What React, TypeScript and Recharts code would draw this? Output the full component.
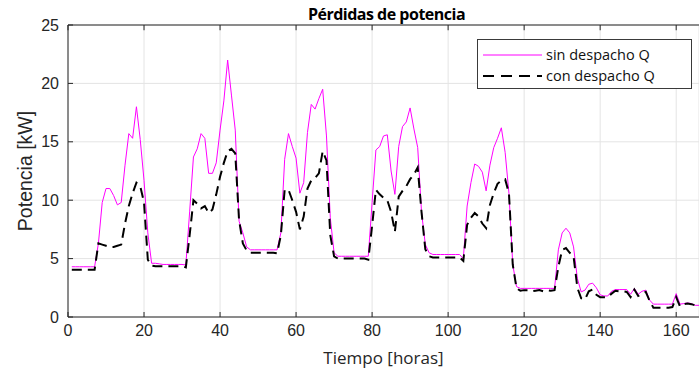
import React from 'react';
import { LineChart, Line, XAxis, YAxis, CartesianGrid, Legend, ReferenceLine } from 'recharts';

// one value per hour, hour 1..166
const hours = Array.from({ length: 166 }, (_, i) => i + 1);

// sin despacho Q [kW]
const sinDespacho = [
  // 1-24
  4.3, 4.3, 4.3, 4.3, 4.3, 4.3, 4.3, 6.3, 9.8, 11.0, 11.0, 10.4, 9.6, 9.8, 13.0, 15.7, 15.3, 18.0, 15.2, 11.7, 7.2, 4.6, 4.6, 4.55,
  // 25-48
  4.5, 4.5, 4.5, 4.5, 4.5, 4.5, 4.45, 9.0, 13.7, 14.4, 15.7, 15.3, 12.3, 12.3, 13.2, 16.0, 18.5, 22.0, 19.0, 16.0, 8.2, 7.2, 6.0, 5.75,
  // 49-72
  5.75, 5.75, 5.75, 5.75, 5.75, 5.75, 5.75, 7.2, 13.5, 15.7, 14.6, 13.6, 10.6, 11.5, 15.8, 18.2, 17.8, 18.7, 19.5, 15.5, 8.5, 5.5, 5.2, 5.2,
  // 73-96
  5.2, 5.2, 5.2, 5.2, 5.2, 5.2, 5.2, 9.8, 14.3, 14.6, 15.5, 15.6, 12.5, 10.5, 14.6, 16.3, 16.7, 17.9, 16.1, 14.5, 9.0, 6.2, 5.5, 5.35,
  // 97-120
  5.35, 5.35, 5.35, 5.35, 5.35, 5.35, 5.35, 5.0, 9.5, 11.5, 13.1, 12.9, 12.4, 10.8, 13.0, 14.5, 15.3, 16.2, 14.1, 10.6, 4.5, 2.6, 2.45, 2.45,
  // 121-144
  2.45, 2.45, 2.45, 2.45, 2.45, 2.45, 2.45, 2.45, 5.75, 7.2, 7.6, 7.2, 6.0, 3.3, 2.15, 2.3, 2.8, 2.9, 2.5, 1.9, 1.8, 1.8, 2.2, 2.35,
  // 145-166
  2.35, 2.35, 2.35, 1.95, 2.45, 1.95, 2.2, 2.3, 1.45, 1.1, 1.1, 1.1, 1.1, 1.1, 1.1, 2.0, 1.1, 1.15, 1.2, 1.15, 1.0, 1.0,
];

// con despacho Q [kW]
const conDespacho = [
  // 1-24
  4.05, 4.05, 4.05, 4.05, 4.05, 4.05, 4.05, 6.3, 6.2, 6.1, 6.0, 6.0, 6.1, 6.2, 8.0, 9.5, 10.6, 11.5, 11.2, 9.8, 4.9, 4.4, 4.35, 4.35,
  // 25-48
  4.35, 4.35, 4.35, 4.35, 4.35, 4.35, 4.25, 7.0, 10.0, 9.7, 9.3, 9.5, 8.9, 9.2, 10.5, 12.0, 13.2, 14.2, 14.4, 14.0, 8.3, 6.3, 5.7, 5.5,
  // 49-72
  5.5, 5.5, 5.5, 5.5, 5.5, 5.5, 5.45, 7.0, 10.9, 10.9, 10.0, 9.0, 7.5, 8.6, 11.0, 11.7, 11.9, 12.3, 14.2, 13.4, 7.0, 5.2, 5.0, 5.0,
  // 73-96
  5.0, 5.0, 5.0, 5.0, 5.0, 5.0, 4.9, 7.8, 10.9, 10.5, 10.2, 10.0, 9.0, 7.3, 10.3, 10.8, 11.2, 11.8, 12.2, 12.8, 9.0, 5.8, 5.2, 5.1,
  // 97-120
  5.1, 5.1, 5.1, 5.1, 5.1, 5.1, 5.1, 4.8, 7.9, 8.5, 8.9, 8.6, 8.0, 7.6, 9.6, 10.6, 11.4, 11.7, 11.8, 10.6, 4.5, 2.45, 2.25, 2.3,
  // 121-144
  2.3, 2.2, 2.25, 2.3, 2.2, 2.3, 2.25, 2.3, 4.3, 5.75, 5.9, 5.5, 5.2, 2.5, 1.6, 1.5, 2.2, 2.35, 1.9, 1.7, 1.7, 1.7, 2.0, 2.25,
  // 145-166
  2.2, 2.2, 2.15, 1.7, 2.35, 1.8, 2.0, 2.15, 1.4, 0.8, 0.8, 0.8, 0.8, 0.8, 0.85, 1.7, 0.9, 1.1, 1.15, 1.1, 1.0, 1.0,
];

const xTicks = [0, 20, 40, 60, 80, 100, 120, 140, 160];
const yTicks = [0, 5, 10, 15, 20, 25];
const yMax = 25;

const seriesNames = { sin: 'sin despacho Q', con: 'con despacho Q' };
const title = 'Pérdidas de potencia';

const data = hours.map((h, i) => ({
  hour: h,
  sin: sinDespacho[i],
  con: conDespacho[i],
}));

const axisColor = '#262626';
const tickFont = '"Liberation Sans", Arial, sans-serif';
const textFont = '"Open Sans", "Noto Sans", sans-serif';

// inward tick length on the top border, in y units (~5px)
const topTickLen = 0.45;

const NoTick = () => <g />;

const YLabel = ({ viewBox }: any) => {
  const cx = viewBox.x + 17;
  const cy = viewBox.y + viewBox.height / 2;
  return (
    <text
      x={cx}
      y={cy}
      transform={`rotate(-90 ${cx} ${cy})`}
      textAnchor="middle"
      dominantBaseline="central"
      fill={axisColor}
      fontSize={19.5}
      fontFamily={tickFont}
    >
      Potencia [kW]
    </text>
  );
};

const TitleLabel = ({ viewBox }: any) => (
  <text
    x={viewBox.x + viewBox.width / 2 + 3}
    y={20}
    textAnchor="middle"
    fill="#000"
    fontSize={16}
    fontWeight={700}
    fontFamily={textFont}
    letterSpacing={-0.5}
  >
    {title}
  </text>
);

const LegendBox = () => (
  <div
    style={{
      width: 213,
      height: 48,
      border: '1px solid #3a3a3a',
      background: '#fff',
      fontFamily: textFont,
      fontSize: 14.5,
      color: '#111',
      boxSizing: 'content-box',
    }}
  >
    {[
      { label: seriesNames.sin, color: '#ff00ff', width: 1, dash: undefined },
      { label: seriesNames.con, color: '#000', width: 2, dash: '11 7' },
    ].map((row, i) => (
      <div key={row.label} style={{ display: 'flex', alignItems: 'center', height: 20, marginTop: i === 0 ? 5 : 1 }}>
        <svg width={68} height={20} style={{ display: 'block' }}>
          <line
            x1={5}
            x2={64}
            y1={10}
            y2={10}
            stroke={row.color}
            strokeWidth={row.width}
            strokeDasharray={row.dash}
          />
        </svg>
        <span style={{ whiteSpace: 'nowrap', lineHeight: '20px' }}>{row.label}</span>
      </div>
    ))}
  </div>
);

export default function App() {
  return (
    <div style={{ position: 'absolute', left: 0, top: 0, width: 699, height: 375, background: '#fff' }}>
      <LineChart width={699} height={375} data={data} margin={{ top: 0, right: 0, bottom: 0, left: 8 }}>
        <CartesianGrid stroke="#e4e4e4" strokeWidth={1} />
        <XAxis
          dataKey="hour"
          type="number"
          domain={[0, 166]}
          ticks={xTicks}
          height={58}
          stroke={axisColor}
          tickSize={-5}
          tickMargin={13}
          tick={{ fill: axisColor, fontSize: 16, fontFamily: tickFont }}
          label={{
            value: 'Tiempo [horas]',
            position: 'insideBottom',
            offset: 11,
            fill: axisColor,
            fontSize: 17,
            fontFamily: textFont,
          }}
        />
        <XAxis
          xAxisId="top"
          orientation="top"
          type="number"
          dataKey="hour"
          domain={[0, 166]}
          ticks={xTicks}
          height={25}
          axisLine={false}
          tickLine={false}
          tick={NoTick}
          label={<TitleLabel />}
        />
        <YAxis
          domain={[0, yMax]}
          ticks={yTicks}
          width={60}
          stroke={axisColor}
          tickSize={-5}
          tickMargin={14}
          tick={{ fill: axisColor, fontSize: 16, fontFamily: tickFont }}
          label={<YLabel />}
        />
        <ReferenceLine y={yMax} stroke={axisColor} strokeWidth={1} />
        {xTicks.map((t) => (
          <ReferenceLine
            key={t}
            segment={[
              { x: t, y: yMax },
              { x: t, y: yMax - topTickLen },
            ]}
            stroke={axisColor}
            strokeWidth={1}
          />
        ))}
        <Legend
          layout="vertical"
          align="center"
          verticalAlign="middle"
          content={<LegendBox />}
          wrapperStyle={{ left: 477, top: 39, width: 215, height: 50 }}
        />
        <Line
          dataKey="sin"
          name={seriesNames.sin}
          type="linear"
          stroke="#ff00ff"
          strokeWidth={1}
          dot={false}
          isAnimationActive={false}
        />
        <Line
          dataKey="con"
          name={seriesNames.con}
          type="linear"
          stroke="#000"
          strokeWidth={2}
          strokeDasharray="10 6"
          dot={false}
          isAnimationActive={false}
        />
      </LineChart>
    </div>
  );
}
